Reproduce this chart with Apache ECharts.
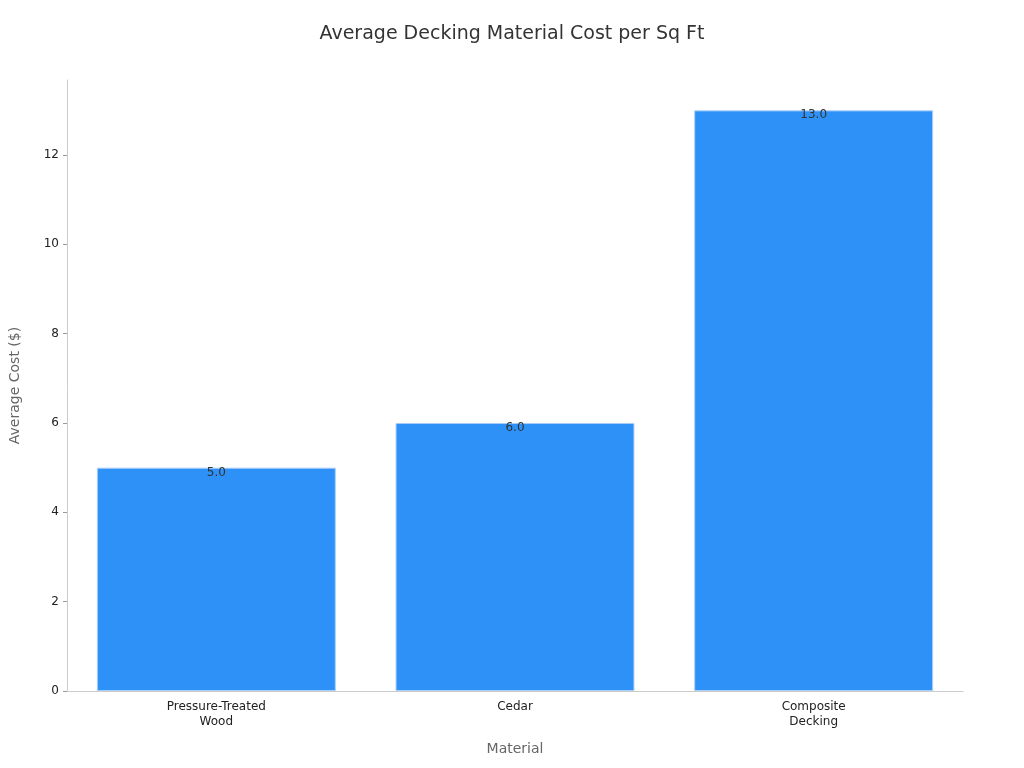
<!DOCTYPE html>
<html><head><meta charset="utf-8">
<script src="https://cdn.jsdelivr.net/npm/echarts@6/dist/echarts.min.js"></script>
<style>html,body{margin:0;padding:0;background:#fff}#c{width:1024px;height:768px}</style>
</head><body><div id="c"></div>
<script>
const categories = ['Pressure-Treated\nWood', 'Cedar', 'Composite\nDecking'];
const costs = [5.0, 6.0, 13.0];
const chart = echarts.init(document.getElementById('c'));
chart.setOption({
  backgroundColor: '#fff',
  textStyle: { fontFamily: 'DejaVu Sans' },
  title: { text: 'Average Decking Material Cost per Sq Ft', left: 'center', top: 20,
    textStyle: { fontSize: 19, fontWeight: 'normal', color: '#333', fontFamily: 'DejaVu Sans' } },
  grid: { left: 60, right: 61, top: 80, bottom: 77 },
  xAxis: { type: 'category', data: categories, name: 'Material', nameLocation: 'middle', nameGap: 51,
    nameTextStyle: { fontSize: 14, color: '#666' },
    axisLine: { lineStyle: { color: '#ccc' } }, axisTick: { show: false },
    axisLabel: { color: '#222', fontSize: 12, lineHeight: 15 } },
  yAxis: { type: 'value', min: 0, max: 13.68, interval: 2, name: 'Average Cost ($)', nameLocation: 'middle', nameGap: 45,
    nameTextStyle: { fontSize: 14, color: '#666' },
    splitLine: { show: false },
    axisLine: { show: true, lineStyle: { color: '#ccc' } },
    axisTick: { show: true, length: 4, lineStyle: { color: '#999' } },
    axisLabel: { color: '#222', fontSize: 12, showMaxLabel: false } },
  series: [{ type: 'bar', data: costs, barCategoryGap: '20%',
    itemStyle: { color: '#2e91f8', borderColor: '#a9cff7', borderWidth: 1 },
    label: { show: true, position: 'insideTop', offset: [0, -6], color: '#333', fontSize: 12,
      formatter: p => p.value.toFixed(1) } }]
});
</script></body></html>
